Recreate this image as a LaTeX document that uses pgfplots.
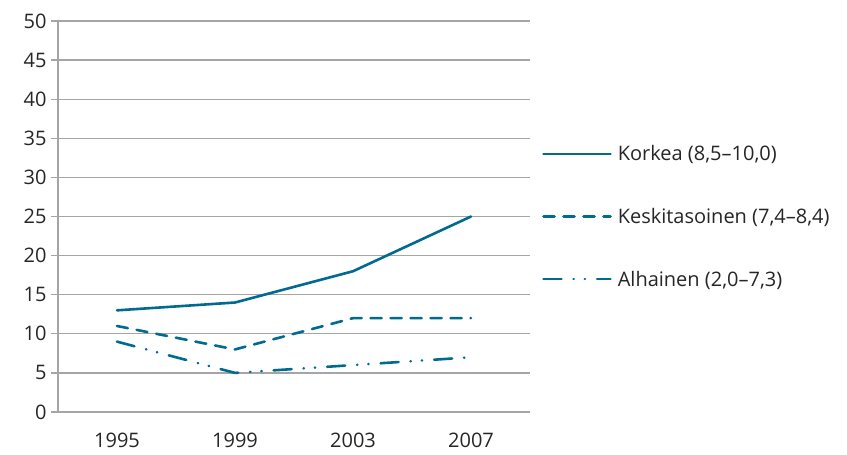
\documentclass[border=0pt]{standalone}
\usepackage{fontspec}
\setmainfont{Open Sans}
\usepackage{pgfplots}
\pgfplotsset{compat=1.18}
\definecolor{serie}{RGB}{0,106,145}
\definecolor{gridc}{RGB}{165,165,165}
\tikzset{sline/.style={serie, line width=2.6bp, line cap=round, line join=round}}

\begin{document}
\begin{tikzpicture}
  \begin{axis}[
      at={(0,0)}, anchor=south west,
      scale only axis,
      width=472bp, height=391bp,
      xmin=-0.5, xmax=3.5,
      ymin=0, ymax=50,
      xtick={0,1,2,3},
      xticklabels={1995,1999,2003,2007},
      minor xtick={-0.5,0.5,1.5,2.5,3.5},
      ytick={0,5,...,50},
      axis x line*=bottom,
      axis y line*=left,
      axis line style={gridc, line width=1.3bp, -},
      ymajorgrids,
      major grid style={gridc, line width=1.3bp},
      tick style={gridc, line width=1.3bp},
      xtick style={draw=none},
      minor x tick style={gridc, line width=1.3bp},
      minor tick length=7bp,
      major tick length=7bp,
      tick align=outside,
      ticklabel style={font=\fontsize{20bp}{23bp}\selectfont, text=black!85},
      xticklabel style={yshift=-10bp},
      yticklabel style={xshift=-1bp},
      /pgf/number format/assume math mode=true,
      legend style={draw=none, fill=none, at={(1,0.5)}, anchor=west,
        xshift=9bp, row sep=42bp,
        font=\fontsize{20bp}{23bp}\selectfont, text=black!85,
        cells={anchor=west}},
      legend image code/.code={\draw[#1] (0bp,0bp) -- (67bp,0bp); \path (71bp,0bp);},
    ]
    \addplot[sline] coordinates {(0,13) (1,14) (2,18) (3,25)};
    \addlegendentry{Korkea (8,5–10,0)}
    \addplot[sline, dash pattern=on 11bp off 9bp] coordinates {(0,11) (1,8) (2,12) (3,12)};
    \addlegendentry{Keskitasoinen (7,4–8,4)}
    \addplot[sline, dash pattern=on 18bp off 12bp on 0.3bp off 11bp on 0.3bp off 12bp] coordinates {(0,9) (1,5) (2,6) (3,7)};
    \addlegendentry{Alhainen (2,0–7,3)}
  \end{axis}
  \pgfresetboundingbox
  \path (-58bp,-43bp) rectangle (789bp,412bp);
\end{tikzpicture}
\end{document}
